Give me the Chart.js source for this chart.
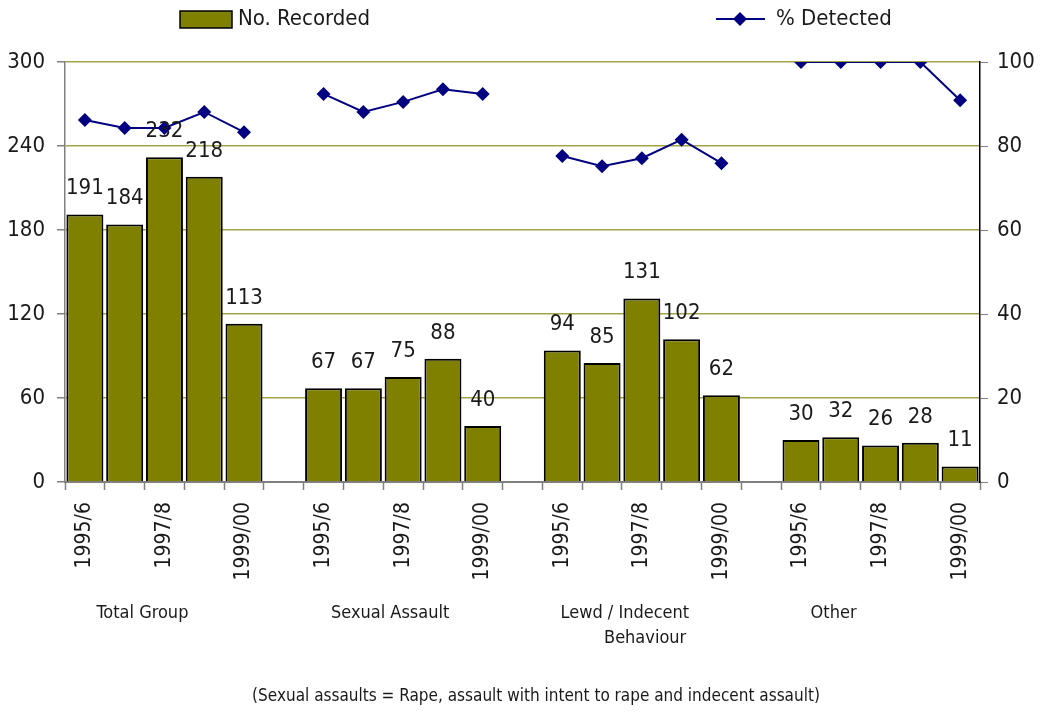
<!DOCTYPE html>
<html>
<head>
<meta charset="utf-8">
<script src="https://cdn.jsdelivr.net/npm/chart.js@4/dist/chart.umd.min.js"></script>
<style>
  html, body { margin: 0; padding: 0; background: #ffffff; }
  #wrap { width: 1045px; height: 712px; position: relative; }
</style>
</head>
<body>
<div id="wrap"><canvas id="chart" width="1045" height="712"></canvas></div>
<script>
// Category slots: five years per offence group, with an empty slot between groups
const yearLabels = ['1995/6', '', '1997/8', '', '1999/00', '',
                    '1995/6', '', '1997/8', '', '1999/00', '',
                    '1995/6', '', '1997/8', '', '1999/00', '',
                    '1995/6', '', '1997/8', '', '1999/00'];
const groupNames = [['Total Group'], ['Sexual Assault'], ['Lewd / Indecent', 'Behaviour'], ['Other']];

// Number of offences recorded
const recorded = [191, 184, 232, 218, 113, null,
                  67, 67, 75, 88, 40, null,
                  94, 85, 131, 102, 62, null,
                  30, 32, 26, 28, 11];

// Percentage of offences detected
const detected = [86.2, 84.3, 84.3, 88.1, 83.3, null,
                  92.4, 88.1, 90.5, 93.5, 92.4, null,
                  77.6, 75.2, 77.1, 81.5, 75.9, null,
                  100, 100, 100, 100, 90.9];

const leftTicks = [0, 60, 120, 180, 240, 300];
const rightTicks = [0, 20, 40, 60, 80, 100];
const footnote = '(Sexual assaults = Rape, assault with intent to rape and indecent assault)';

const FONT = "'Liberation Sans Narrow', 'Arial Narrow', 'DejaVu Sans Condensed', sans-serif";
const TEXT = '#1a1a1a';
const OLIVE = '#808000';
const NAVY = '#000080';

// horizontal shift of each group caption relative to its group's centre
const captionShift = [-22, -13, -17, -47];

// Bar value labels above each bar
const valueLabels = {
  id: 'valueLabels',
  afterDatasetsDraw(chart) {
    const ctx = chart.ctx;
    const meta = chart.getDatasetMeta(0);
    ctx.save();
    ctx.font = '22px ' + FONT;
    ctx.fillStyle = TEXT;
    ctx.textAlign = 'center';
    ctx.textBaseline = 'bottom';
    meta.data.forEach((bar, i) => {
      const v = recorded[i];
      if (v === null) return;
      ctx.fillText(String(v), bar.x, bar.y - 15);
    });
    ctx.restore();
  }
};

// Legend, group captions under the year labels, and footnote
const extras = {
  id: 'extras',
  afterDraw(chart) {
    const ctx = chart.ctx;
    const x = chart.scales.x;
    ctx.save();
    ctx.fillStyle = TEXT;

    // legend: bar swatch
    ctx.font = '22px ' + FONT;
    ctx.textBaseline = 'middle';
    ctx.textAlign = 'left';
    ctx.fillStyle = OLIVE;
    ctx.fillRect(180, 11, 52, 17);
    ctx.strokeStyle = '#000';
    ctx.lineWidth = 1.5;
    ctx.strokeRect(180, 11, 52, 17);
    ctx.fillStyle = TEXT;
    ctx.fillText(chart.data.datasets[0].label, 238, 19);

    // legend: line with diamond marker
    ctx.strokeStyle = NAVY;
    ctx.lineWidth = 2;
    ctx.beginPath();
    ctx.moveTo(716, 19);
    ctx.lineTo(765, 19);
    ctx.stroke();
    ctx.fillStyle = NAVY;
    ctx.beginPath();
    ctx.moveTo(740, 12); ctx.lineTo(747, 19); ctx.lineTo(740, 26); ctx.lineTo(733, 19);
    ctx.closePath();
    ctx.fill();
    ctx.fillStyle = TEXT;
    ctx.fillText(chart.data.datasets[1].label, 776, 19);

    // group captions below each group's year labels
    ctx.font = '18px ' + FONT;
    groupNames.forEach((lines, g) => {
      const first = g * 6;
      const cx = (x.getPixelForValue(first) + x.getPixelForValue(first + 4)) / 2 + captionShift[g];
      const w0 = ctx.measureText(lines[0]).width;
      lines.forEach((t, k) => {
        if (k === 0) {
          ctx.textAlign = 'center';
          ctx.fillText(t, cx, 613);
        } else {
          ctx.textAlign = 'right';
          ctx.fillText(t, cx + w0 / 2 - 3, 613 + k * 25);
        }
      });
    });

    // footnote
    ctx.textAlign = 'center';
    ctx.font = '17px ' + FONT;
    ctx.fillText(footnote, 536, 697);
    ctx.restore();
  }
};

new Chart(document.getElementById('chart'), {
  data: {
    labels: yearLabels,
    datasets: [
      {
        type: 'bar',
        label: 'No. Recorded',
        data: recorded,
        yAxisID: 'y',
        backgroundColor: OLIVE,
        borderColor: '#000000',
        borderWidth: 2,
        barPercentage: 0.93,
        categoryPercentage: 1.0,
        order: 2
      },
      {
        type: 'line',
        label: '% Detected',
        data: detected,
        yAxisID: 'y1',
        borderColor: NAVY,
        backgroundColor: NAVY,
        borderWidth: 2,
        pointStyle: 'rectRot',
        pointRadius: 7,
        pointHoverRadius: 7,
        pointBorderWidth: 0,
        spanGaps: false,
        tension: 0,
        order: 1
      }
    ]
  },
  options: {
    responsive: false,
    animation: false,
    events: [],
    layout: { padding: { top: 62, left: 0, right: 0, bottom: 0 } },
    plugins: {
      legend: { display: false },
      tooltip: { enabled: false }
    },
    scales: {
      x: {
        offset: true,
        afterFit(s) { s.height = 230; },
        grid: {
          offset: true,
          drawOnChartArea: false,
          drawTicks: true,
          tickLength: 8,
          tickColor: '#808080',
          tickWidth: 1.5
        },
        border: { display: true, color: '#808080', width: 2 },
        ticks: {
          autoSkip: false,
          maxRotation: 90,
          minRotation: 90,
          padding: 12,
          color: TEXT,
          font: { family: FONT, size: 21 }
        }
      },
      y: {
        position: 'left',
        min: 0,
        max: 300,
        afterFit(s) { s.width = 65; },
        afterBuildTicks(s) { s.ticks = leftTicks.map(v => ({ value: v })); },
        grid: {
          color: ctx => (ctx.tick && ctx.tick.value === 0) ? 'rgba(0,0,0,0)' : '#a3a345',
          lineWidth: 1.5,
          drawTicks: true,
          tickLength: 8,
          tickColor: '#808080'
        },
        border: { display: true, color: '#808080', width: 1.5 },
        ticks: {
          padding: 12,
          color: TEXT,
          font: { family: FONT, size: 22 }
        }
      },
      y1: {
        position: 'right',
        min: 0,
        max: 100,
        afterFit(s) { s.width = 65; },
        afterBuildTicks(s) { s.ticks = rightTicks.map(v => ({ value: v })); },
        grid: {
          drawOnChartArea: false,
          drawTicks: true,
          tickLength: 8,
          tickColor: '#808080'
        },
        border: { display: true, color: '#000000', width: 1.5 },
        ticks: {
          padding: 9,
          color: TEXT,
          font: { family: FONT, size: 22 }
        }
      }
    }
  },
  plugins: [valueLabels, extras]
});
</script>
</body>
</html>
